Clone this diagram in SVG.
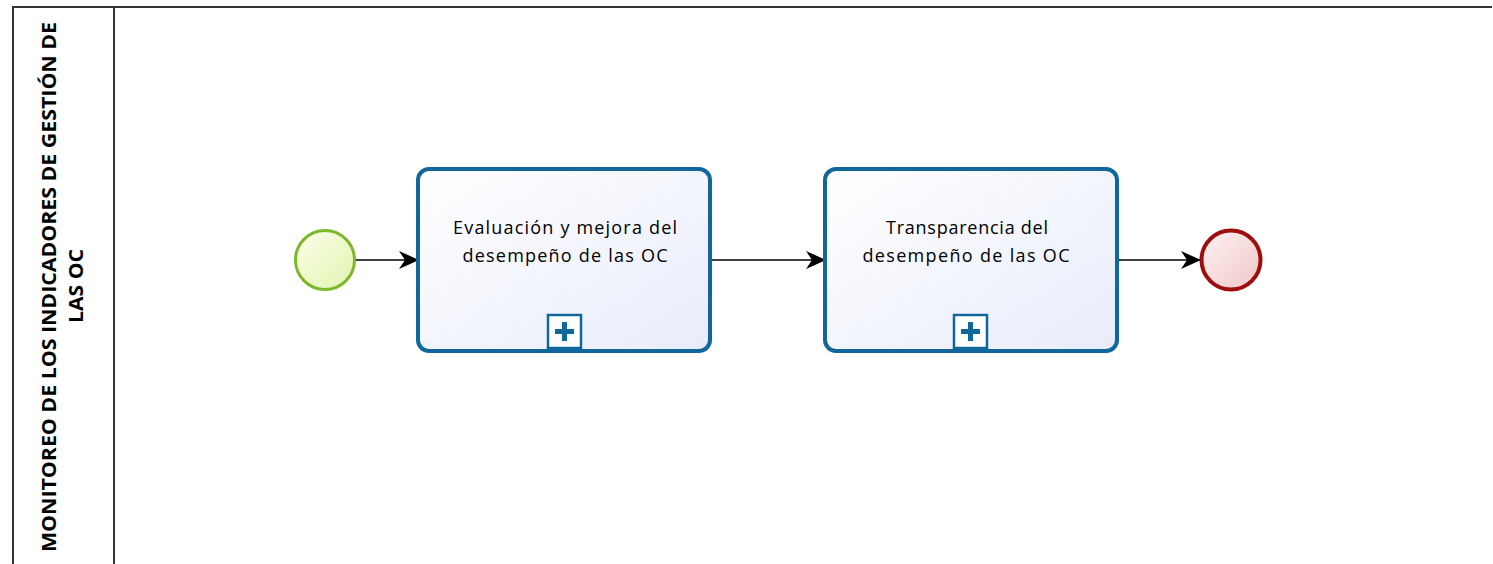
<svg xmlns="http://www.w3.org/2000/svg" width="1493" height="564" viewBox="0 0 1493 564">
<style>
.pool{fill:none;stroke:#333;stroke-width:2}
.task{fill:url(#tg);stroke:#10679b;stroke-width:4}
.lbl{font-family:"Open Sans","Noto Sans",sans-serif;font-size:18px;fill:#000;text-anchor:middle}
.lane{font-family:"Open Sans","Noto Sans",sans-serif;font-size:20px;font-weight:bold;fill:#000;text-anchor:middle}
.flow{fill:none;stroke:#000;stroke-width:1.5}
.plus{fill:#fff;stroke:#10679b;stroke-width:2.5}
</style>
<defs>
<linearGradient id="tg" x1="0" y1="0" x2="1" y2="1"><stop offset="0" stop-color="#ffffff"/><stop offset="1" stop-color="#e8ecfa"/></linearGradient>
<linearGradient id="sg" x1="0" y1="0" x2="1" y2="1"><stop offset="0" stop-color="#fbfde8"/><stop offset="1" stop-color="#e2f4b2"/></linearGradient>
<linearGradient id="eg" x1="0" y1="0" x2="1" y2="1"><stop offset="0" stop-color="#fdf2f2"/><stop offset="1" stop-color="#f1c6c6"/></linearGradient>
<marker id="ah" markerWidth="20" markerHeight="18" refX="19" refY="9" orient="auto" markerUnits="userSpaceOnUse" viewBox="0 0 20 18">
<path d="M0,0 L20,9 L0,18 L6,9 Z" fill="#000"/>
</marker>
</defs>
<rect width="1493" height="564" fill="#fff"/>
<g id="pool">
<path class="pool" d="M1492,7 H13 V570"/>
<line class="pool" x1="114" y1="7" x2="114" y2="570"/>
<text class="lane" transform="translate(56,287) rotate(-90)" textLength="530" lengthAdjust="spacingAndGlyphs">MONITOREO DE LOS INDICADORES DE GESTIÓN DE</text>
<text class="lane" transform="translate(83,286) rotate(-90)" textLength="74" lengthAdjust="spacingAndGlyphs">LAS OC</text>
</g>
<g id="connectors">
<line class="flow" x1="355" y1="260" x2="418" y2="260" marker-end="url(#ah)"/>
<line class="flow" x1="711" y1="260" x2="825" y2="260" marker-end="url(#ah)"/>
<line class="flow" x1="1117" y1="260" x2="1200" y2="260" marker-end="url(#ah)"/>
</g>
<g id="start">
<circle cx="325" cy="260" r="29.5" fill="url(#sg)" stroke="#7cb82a" stroke-width="3"/>
</g>
<g id="task1">
<rect class="task" x="418" y="169" width="292" height="182" rx="11"/>
<text class="lbl" x="565" y="234" textLength="224" lengthAdjust="spacing">Evaluación y mejora del</text>
<text class="lbl" x="565" y="262" textLength="205" lengthAdjust="spacing">desempeño de las OC</text>
<rect class="plus" x="548" y="315" width="33" height="33"/>
<path d="M564.5,322 v19 M555,331.5 h19" stroke="#10679b" stroke-width="5"/>
</g>
<g id="task2">
<rect class="task" x="825" y="169" width="292" height="182" rx="11"/>
<text class="lbl" x="967" y="234" textLength="162" lengthAdjust="spacing">Transparencia del</text>
<text class="lbl" x="966" y="262" textLength="207" lengthAdjust="spacing">desempeño de las OC</text>
<rect class="plus" x="954" y="315" width="33" height="33"/>
<path d="M970.5,322 v19 M961,331.5 h19" stroke="#10679b" stroke-width="5"/>
</g>
<g id="end">
<circle cx="1231" cy="260" r="29.5" fill="url(#eg)" stroke="#a00d0d" stroke-width="4"/>
</g>
</svg>
